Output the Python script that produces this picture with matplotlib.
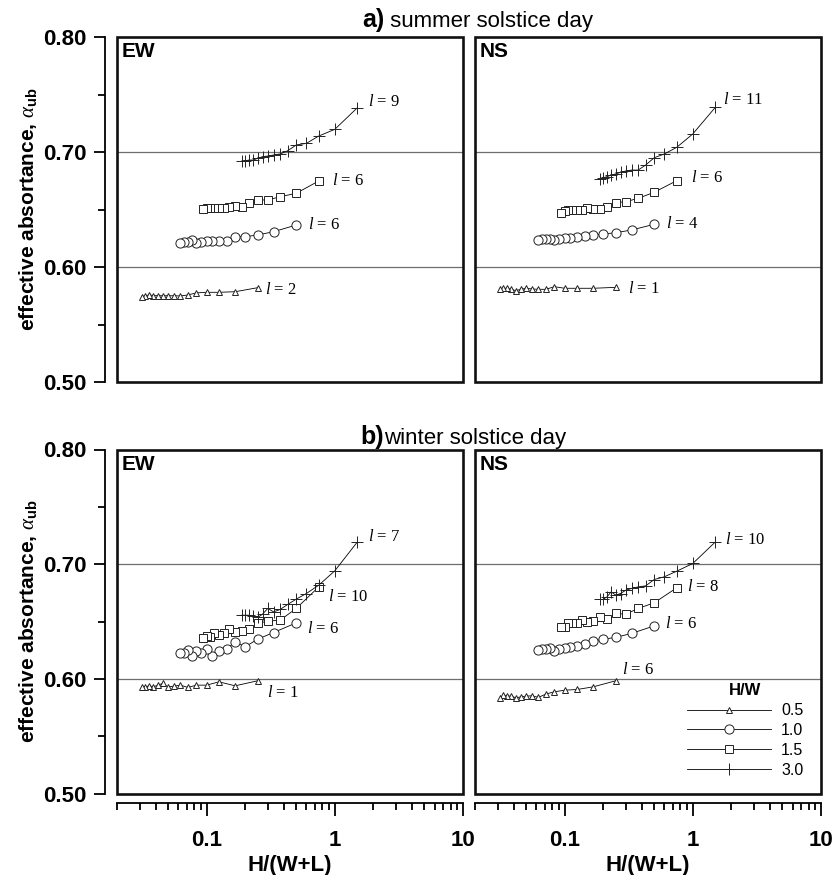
import matplotlib
matplotlib.use('Agg')
import matplotlib.pyplot as plt
from matplotlib.patches import Rectangle
from matplotlib.ticker import LogLocator, NullFormatter, FixedLocator, FixedFormatter

plt.rcParams['font.family'] = ['Liberation Sans', 'DejaVu Sans']
plt.rcParams['mathtext.fontset'] = 'custom'
plt.rcParams['mathtext.rm'] = 'Liberation Serif'
plt.rcParams['mathtext.it'] = 'Liberation Serif:italic'
plt.rcParams['mathtext.bf'] = 'Liberation Sans:bold'

# ---------------- data ----------------
hw_labels = ['0.5', '1.0', '1.5', '3.0']

x_05 = [0.25, 0.167, 0.125, 0.1, 0.0833, 0.0714, 0.0625, 0.0556, 0.05, 0.0455, 0.0417, 0.0385, 0.0357, 0.0333, 0.0313]
x_10 = [0.5, 0.333, 0.25, 0.2, 0.167, 0.143, 0.125, 0.111, 0.1, 0.0909, 0.0833, 0.0769, 0.0714, 0.0667, 0.0625]
x_15 = [0.75, 0.5, 0.375, 0.3, 0.25, 0.214, 0.1875, 0.167, 0.15, 0.136, 0.125, 0.115, 0.107, 0.1, 0.094]
x_30 = [1.5, 1.0, 0.75, 0.6, 0.5, 0.429, 0.375, 0.333, 0.3, 0.273, 0.25, 0.231, 0.214, 0.2, 0.1875]

sum_ew_05 = [0.582, 0.5785, 0.578, 0.578, 0.5775, 0.5757, 0.5748, 0.575, 0.575, 0.575, 0.575, 0.5752, 0.5757, 0.575, 0.5742]
sum_ew_10 = [0.6365, 0.6307, 0.6278, 0.6264, 0.6264, 0.6229, 0.6229, 0.6229, 0.6226, 0.6217, 0.6212, 0.6235, 0.622, 0.622, 0.6206]
sum_ew_15 = [0.6748, 0.6641, 0.6611, 0.6583, 0.6583, 0.6554, 0.6525, 0.6534, 0.6525, 0.6516, 0.6516, 0.651, 0.651, 0.6516, 0.6501]
sum_ew_30 = [0.7385, 0.7197, 0.7139, 0.7075, 0.7061, 0.7011, 0.6983, 0.6974, 0.6965, 0.6959, 0.6945, 0.693, 0.693, 0.6924, 0.6922]

sum_ns_05 = [0.5823, 0.5815, 0.5815, 0.5815, 0.5829, 0.5806, 0.5806, 0.5809, 0.5815, 0.5806, 0.5794, 0.5806, 0.5815, 0.5815, 0.5806]
sum_ns_10 = [0.6371, 0.6322, 0.6298, 0.6287, 0.6278, 0.6272, 0.6258, 0.625, 0.625, 0.6243, 0.6235, 0.6243, 0.6246, 0.6243, 0.6235]
sum_ns_15 = [0.6751, 0.665, 0.6597, 0.6568, 0.656, 0.6525, 0.6504, 0.6504, 0.651, 0.6496, 0.6496, 0.6496, 0.6496, 0.649, 0.6472]
sum_ns_30 = [0.7389, 0.7157, 0.7041, 0.6983, 0.695, 0.6887, 0.6843, 0.6843, 0.6835, 0.6823, 0.6809, 0.68, 0.6785, 0.6777, 0.6762]

win_ew_05 = [0.5983, 0.5939, 0.5974, 0.5945, 0.5945, 0.5925, 0.5945, 0.5936, 0.593, 0.596, 0.5945, 0.593, 0.5939, 0.593, 0.5925]
win_ew_10 = [0.6488, 0.6404, 0.6346, 0.6279, 0.6323, 0.6259, 0.6241, 0.6198, 0.6256, 0.6221, 0.6241, 0.6198, 0.625, 0.6221, 0.6221]
win_ew_15 = [0.6802, 0.6614, 0.6512, 0.6503, 0.6483, 0.6431, 0.6416, 0.641, 0.6431, 0.6401, 0.6381, 0.6396, 0.6366, 0.6372, 0.6352]
win_ew_30 = [0.7194, 0.6942, 0.6817, 0.6744, 0.6695, 0.6649, 0.6605, 0.6584, 0.6614, 0.6564, 0.6535, 0.6549, 0.6555, 0.6555, 0.6555]

win_ns_05 = [0.5983, 0.593, 0.5907, 0.5901, 0.5887, 0.5867, 0.5838, 0.5852, 0.5849, 0.5843, 0.5834, 0.5849, 0.5849, 0.5858, 0.5829]
win_ns_10 = [0.6462, 0.6396, 0.6361, 0.6346, 0.6329, 0.6303, 0.6288, 0.6274, 0.6265, 0.6256, 0.6244, 0.6265, 0.6256, 0.6259, 0.625]
win_ns_15 = [0.6794, 0.6663, 0.6614, 0.6564, 0.657, 0.6518, 0.6541, 0.6503, 0.6497, 0.6512, 0.6483, 0.6488, 0.6483, 0.6453, 0.6453]
win_ns_30 = [0.7194, 0.7006, 0.6939, 0.689, 0.6866, 0.6811, 0.6802, 0.6788, 0.6773, 0.6744, 0.673, 0.6759, 0.6715, 0.6692, 0.6692]

sum_ew_l = [2, 6, 6, 9]
sum_ns_l = [1, 4, 6, 11]
win_ew_l = [1, 6, 10, 7]
win_ns_l = [6, 6, 8, 10]

y_ticks = [0.50, 0.60, 0.70, 0.80]
y_ticklabels = ['0.50', '0.60', '0.70', '0.80']
x_ticks = [0.1, 1, 10]
x_ticklabels = ['0.1', '1', '10']

# ---------------- styling ----------------
W, H = 835, 875
fig = plt.figure(figsize=(W / 100, H / 100), dpi=100)

def fx(px):
    return px / W

def fy(py):
    return 1 - py / H

rows = [(37, 382), (449.5, 793.5)]
cols = [(117, 463), (475, 821)]

markers = [dict(marker='^', ms=4.6), dict(marker='o', ms=6.6),
           dict(marker='s', ms=6.2), dict(marker='+', ms=8.0)]

xs_all = [x_05, x_10, x_15, x_30]
panels = [
    [([sum_ew_05, sum_ew_10, sum_ew_15, sum_ew_30], sum_ew_l, 'EW',
      [(7, -2), (12, 0), (13, 0), (11, 6)]),
     ([sum_ns_05, sum_ns_10, sum_ns_15, sum_ns_30], sum_ns_l, 'NS',
      [(12, -2), (12, 0), (14, 3), (8, 7)])],
    [([win_ew_05, win_ew_10, win_ew_15, win_ew_30], win_ew_l, 'EW',
      [(9, -12), (11, -6), (9, -10), (11, 5)]),
     ([win_ns_05, win_ns_10, win_ns_15, win_ns_30], win_ns_l, 'NS',
      [(6, 11), (11, 2), (10, 1), (10, 2)])],
]

for r, (top, bot) in enumerate(rows):
    for c, (left, right) in enumerate(cols):
        ax = fig.add_axes([fx(left), fy(bot), fx(right - left), (bot - top) / H])
        ys_list, lvals, tag, offs = panels[r][c]
        ax.set_xscale('log')
        ax.set_xlim(0.02, 10)
        ax.set_ylim(0.50, 0.80)
        for gy in (0.60, 0.70):
            ax.axhline(gy, color='#6e6e6e', lw=0.9, zorder=1)
        handles = []
        for i in range(4):
            h, = ax.plot(xs_all[i], ys_list[i], color='black', lw=0.6,
                         mfc='white', mec='#222222', mew=0.7,
                         label=hw_labels[i], zorder=3, **markers[i])
            handles.append(h)
            ax.annotate(r'$l$ = %d' % lvals[i], xy=(xs_all[i][0], ys_list[i][0]),
                        xytext=(offs[i][0] * 0.72, offs[i][1] * 0.72),
                        textcoords='offset points', ha='left', va='center',
                        fontsize=12, family='Liberation Serif')
        ax.text(0.013, 0.985, tag, transform=ax.transAxes, ha='left', va='top',
                fontsize=15, fontweight='bold')
        ax.add_patch(Rectangle((0, 0), 1, 1, transform=ax.transAxes, fill=False,
                               lw=1.9, ec='#111111', clip_on=False, zorder=5))
        for s in ('top', 'right'):
            ax.spines[s].set_visible(False)
        # y axis
        if c == 0:
            ax.spines['left'].set_position(('outward', 9))
            ax.spines['left'].set_linewidth(1.3)
            ax.yaxis.set_major_locator(FixedLocator(y_ticks))
            ax.yaxis.set_major_formatter(FixedFormatter(y_ticklabels))
            ax.yaxis.set_minor_locator(FixedLocator([0.55, 0.65, 0.75]))
            ax.tick_params(axis='y', which='major', direction='out', length=8,
                           width=1.3, pad=5, labelsize=16)
            ax.tick_params(axis='y', which='minor', direction='out', length=5, width=1.3)
            for t in ax.get_yticklabels():
                t.set_fontweight('bold')
            ax.set_ylabel(r'effective absortance, $\alpha_{\mathbf{ub}}$',
                          fontsize=15, fontweight='bold', labelpad=3)
        else:
            ax.spines['left'].set_visible(False)
            ax.tick_params(axis='y', which='both', left=False, labelleft=False)
        # x axis
        if r == 1:
            ax.spines['bottom'].set_position(('outward', 7))
            ax.spines['bottom'].set_linewidth(1.3)
            ax.xaxis.set_major_locator(FixedLocator(x_ticks))
            ax.xaxis.set_major_formatter(FixedFormatter(x_ticklabels))
            ax.xaxis.set_minor_locator(LogLocator(base=10, subs=range(2, 10)))
            ax.xaxis.set_minor_formatter(NullFormatter())
            ax.tick_params(axis='x', which='major', direction='out', length=9,
                           width=1.3, pad=10, labelsize=16)
            ax.tick_params(axis='x', which='minor', direction='out', length=5, width=1.3)
            for t in ax.get_xticklabels():
                t.set_fontweight('bold')
            ax.set_xlabel('H/(W+L)', fontsize=16, fontweight='bold', labelpad=3)
        else:
            ax.spines['bottom'].set_visible(False)
            ax.tick_params(axis='x', which='both', bottom=False, labelbottom=False)
        if r == 1 and c == 1:
            leg = ax.legend(handles=handles, title='H/W', loc='lower right',
                            bbox_to_anchor=(0.995, 0.0), frameon=False,
                            fontsize=11.5, title_fontproperties={'weight': 'bold', 'size': 12},
                            handlelength=5.3, handletextpad=0.6, labelspacing=0.3,
                            borderpad=0.5)

# titles
t1 = fig.text(fx(362), fy(27), 'a)', fontsize=18, fontweight='bold', va='baseline', ha='left')
fig.canvas.draw()
bb = t1.get_window_extent()
fig.text(bb.x1 / W, fy(27), ' summer solstice day', fontsize=16, va='baseline', ha='left')

t2 = fig.text(fx(360), fy(444), 'b)', fontsize=18, fontweight='bold', va='baseline', ha='left')
fig.canvas.draw()
bb2 = t2.get_window_extent()
fig.text(bb2.x1 / W, fy(444), 'winter solstice day', fontsize=16, va='baseline', ha='left')

fig.savefig('out.png', dpi=100)
